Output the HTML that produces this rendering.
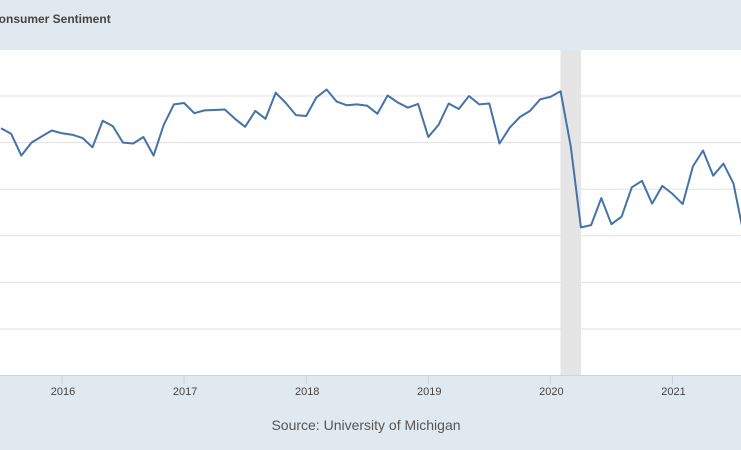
<!DOCTYPE html>
<html><head><meta charset="utf-8"><style>
html,body{margin:0;padding:0;background:#e1e9f0;width:741px;height:450px;overflow:hidden;font-family:"Liberation Sans",Arial,sans-serif}
</style></head><body>
<svg id="chart" width="741" height="450" viewBox="0 0 741 450" xmlns="http://www.w3.org/2000/svg">
<rect x="0" y="0" width="741" height="450" fill="#e1e9f0"/>
<text x="-10" y="23" font-size="12" font-weight="bold" fill="#444">Consumer Sentiment</text>
<rect x="0" y="50" width="741" height="325" fill="#ffffff"/>
<g id="grid"></g>
<g id="bands"></g>
<line x1="0" y1="375.5" x2="741" y2="375.5" stroke="#c8d4e3"/>
<g id="xaxis"></g>
<path id="line" fill="none" stroke="#4572a7" stroke-width="2" stroke-linejoin="round"/>
<text x="366" y="430" font-size="14" fill="#555" text-anchor="middle">Source: University of Michigan</text>
</svg>
<script>
const startYear = 2015, startMonth = 6; // July 2015 (0-based month)
const values = [93.1,91.9,87.2,90.0,91.3,92.6,
92.0,91.7,91.0,89.0,94.7,93.5,90.0,89.8,91.2,87.2,93.8,98.2,
98.5,96.3,96.9,97.0,97.1,95.1,93.4,96.8,95.1,100.7,98.5,95.9,
95.7,99.7,101.4,98.8,98.0,98.2,97.9,96.2,100.1,98.6,97.5,98.3,
91.2,93.8,98.4,97.2,100.0,98.2,98.4,89.8,93.2,95.5,96.8,99.3,
99.8,101.0,89.1,71.8,72.3,78.1,72.5,74.1,80.4,81.8,76.9,80.7,
79.0,76.8,84.9,88.3,82.9,85.5,81.2,70.3];
const gridValues = [100,90,80,70,60,50];
const yearTicks = [2016,2017,2018,2019,2020,2021];
const recessions = [[2020.083,2020.25]];

const NS="http://www.w3.org/2000/svg";
function xs(t){return 62 + (t-2016)*122.1;}
function ys(v){return 96 + (100-v)*4.66;}
const grid=document.getElementById('grid');
gridValues.forEach(v=>{
  const l=document.createElementNS(NS,'line');
  l.setAttribute('x1',0);l.setAttribute('x2',741);
  l.setAttribute('y1',ys(v));l.setAttribute('y2',ys(v));
  l.setAttribute('stroke','#e0e0e0');
  
  
  grid.appendChild(l);
});
const bands=document.getElementById('bands');
recessions.forEach(r=>{
  const b=document.createElementNS(NS,'rect');
  b.setAttribute('x',xs(r[0]));b.setAttribute('width',xs(r[1])-xs(r[0]));
  b.setAttribute('y',50);b.setAttribute('height',325);
  b.setAttribute('fill','#e5e5e5');
  
  
  bands.appendChild(b);
});
const xa=document.getElementById('xaxis');
yearTicks.forEach(y=>{
  const x=xs(y);
  const t=document.createElementNS(NS,'line');
  t.setAttribute('x1',x);t.setAttribute('x2',x);t.setAttribute('y1',375);t.setAttribute('y2',384);
  t.setAttribute('stroke','#c8d4e3');
  
  
  xa.appendChild(t);
  const tx=document.createElementNS(NS,'text');
  tx.setAttribute('x',x+1);tx.setAttribute('y',395);
  tx.setAttribute('font-size','11');tx.setAttribute('fill','#444');
  tx.setAttribute('text-anchor','middle');
  tx.textContent=y;
  
  
  xa.appendChild(tx);
});
let d='';
values.forEach((v,i)=>{
  const t=startYear+(startMonth+i)/12;
  d+=(i?'L':'M')+xs(t).toFixed(1)+','+ys(v).toFixed(1);
});
document.getElementById('line').setAttribute('d',d);
</script>
</body></html>
